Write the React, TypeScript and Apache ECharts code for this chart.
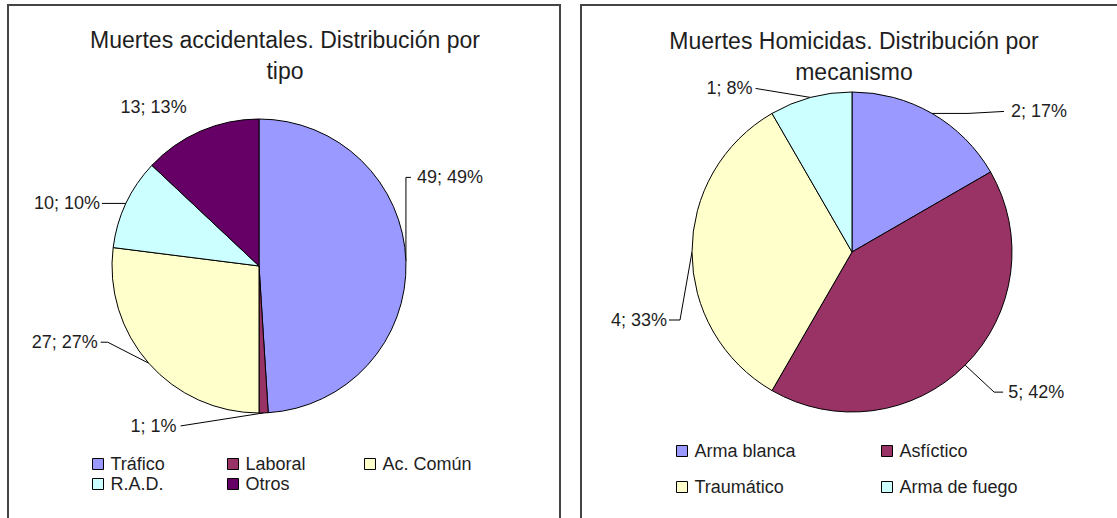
import React, { useEffect, useRef } from "react";
import * as echarts from "echarts";

// ---- data ----
const accidentTitle = "Muertes accidentales. Distribución por\ntipo";
const accidentCategories = ["Tráfico", "Laboral", "Ac. Común", "R.A.D.", "Otros"];
const accidentValues = [49, 1, 27, 10, 13];

const homicideTitle = "Muertes Homicidas. Distribución por\nmecanismo";
const homicideCategories = ["Arma blanca", "Asfíctico", "Traumático", "Arma de fuego"];
const homicideValues = [2, 5, 4, 1];

// ---- styles ----
const accidentColors = ["#9999FF", "#993366", "#FFFFCC", "#CCFFFF", "#660066"];
const homicideColors = ["#9999FF", "#993366", "#FFFFCC", "#CCFFFF"];
const FONT = "'Liberation Sans', Arial, Helvetica, sans-serif";
const TEXT_COLOR = "#1e1e1e";

type Pt = [number, number];
type Placement = { elbow: Pt; end: Pt; text: Pt; align: string; line: boolean };

// label offsets relative to the slice's outer edge point at its mid-angle
const accidentPlacements: Placement[] = [
  { elbow: [0, -84], end: [5, -84], text: [11, -84], align: "left", line: true },
  { elbow: [-83, 13], end: [-83, 13], text: [-87, 13], align: "right", line: true },
  { elbow: [-41, -21], end: [-48, -21], text: [-51, -21], align: "right", line: true },
  { elbow: [-12, 0], end: [-24, 0], text: [-26, 0], align: "right", line: true },
  { elbow: [0, 0], end: [0, 0], text: [-47, -24], align: "center", line: false },
];
const homicidePlacements: Placement[] = [
  { elbow: [36, 0], end: [72, -2], text: [79, -2], align: "left", line: true },
  { elbow: [29, 27], end: [38, 27], text: [43, 27], align: "left", line: true },
  { elbow: [-12, 68], end: [-23, 68], text: [-25, 68], align: "right", line: true },
  { elbow: [-55, -9], end: [-55, -9], text: [-58, -9], align: "right", line: true },
];

const accidentCenter: Pt = [259, 266];
const accidentRadius = 147;
const homicideCenter: Pt = [852, 252];
const homicideRadius = 160;

function makeLayout(values: number[], center: Pt, radius: number, placements: Placement[]) {
  return (params: any) => {
    const total = values.reduce((a, b) => a + b, 0);
    let cum = 0;
    for (let k = 0; k < params.dataIndex; k++) cum += values[k];
    const theta = ((cum + values[params.dataIndex] / 2) / total) * Math.PI * 2;
    const ex = center[0] + radius * Math.sin(theta);
    const ey = center[1] - radius * Math.cos(theta);
    const p = placements[params.dataIndex];
    const pt = (o: Pt) => [ex + o[0], ey + o[1]];
    return {
      x: ex + p.text[0],
      y: ey + p.text[1],
      align: p.align,
      verticalAlign: "middle",
      labelLinePoints: p.line ? [[ex, ey], pt(p.elbow), pt(p.end)] : [[ex, ey], [ex, ey], [ex, ey]],
    };
  };
}

function pieSeries(
  names: string[],
  values: number[],
  colors: string[],
  center: Pt,
  radius: number,
  placements: Placement[]
) {
  return {
    type: "pie",
    center,
    radius,
    startAngle: 90,
    clockwise: true,
    percentPrecision: 0,
    avoidLabelOverlap: false,
    data: names.map((n, i) => ({ name: n, value: values[i], itemStyle: { color: colors[i] } })),
    itemStyle: { borderColor: "#000", borderWidth: 1 },
    emphasis: { disabled: true },
    label: {
      show: true,
      position: "outside",
      formatter: "{c}; {d}%",
      fontFamily: FONT,
      fontSize: 18,
      color: TEXT_COLOR,
    },
    labelLine: { show: true, length: 10, length2: 10, lineStyle: { color: "#000", width: 1 } },
    labelLayout: makeLayout(values, center, radius, placements),
  };
}

function legend(names: string[], left: number, top: number, gap: number) {
  return {
    data: names,
    orient: "vertical",
    left,
    top,
    padding: 0,
    itemGap: gap,
    itemWidth: 11,
    itemHeight: 11,
    icon: "rect",
    itemStyle: { borderColor: "#000", borderWidth: 1 },
    selectedMode: false,
    textStyle: { fontFamily: FONT, fontSize: 18, color: TEXT_COLOR, lineHeight: 18, padding: [0, 0, 0, 2] },
  };
}

export default function App() {
  const ref = useRef<HTMLDivElement>(null);
  useEffect(() => {
    if (!ref.current) return;
    const chart = echarts.init(ref.current, undefined, { renderer: "svg" });
    chart.setOption({
      animation: false,
      backgroundColor: "#fff",
      title: [
        {
          text: accidentTitle,
          left: 285,
          top: 24,
          padding: 0,
          textAlign: "center",
          textStyle: { fontFamily: FONT, fontSize: 23, fontWeight: "normal", color: TEXT_COLOR, lineHeight: 31 },
        },
        {
          text: homicideTitle,
          left: 854,
          top: 25,
          padding: 0,
          textAlign: "center",
          textStyle: { fontFamily: FONT, fontSize: 23, fontWeight: "normal", color: TEXT_COLOR, lineHeight: 31 },
        },
      ],
      legend: [
        legend([accidentCategories[0], accidentCategories[3]], 92, 455, 2),
        legend([accidentCategories[1], accidentCategories[4]], 227, 455, 2),
        legend([accidentCategories[2]], 364, 455, 2),
        legend([homicideCategories[0], homicideCategories[2]], 676, 442, 18),
        legend([homicideCategories[1], homicideCategories[3]], 881, 442, 18),
      ],
      graphic: [
        {
          type: "rect",
          shape: { x: 8, y: 5, width: 552, height: 540 },
          style: { fill: "none", stroke: "#444", lineWidth: 2 },
          silent: true,
        },
        {
          type: "rect",
          shape: { x: 581, y: 5, width: 560, height: 540 },
          style: { fill: "none", stroke: "#444", lineWidth: 2 },
          silent: true,
        },
      ],
      series: [
        pieSeries(accidentCategories, accidentValues, accidentColors, accidentCenter, accidentRadius, accidentPlacements),
        pieSeries(homicideCategories, homicideValues, homicideColors, homicideCenter, homicideRadius, homicidePlacements),
      ],
    });
    return () => chart.dispose();
  }, []);
  return (
    <div
      ref={ref}
      style={{ position: "fixed", left: 0, top: 0, width: 1117, height: 518, background: "#fff" }}
    />
  );
}
